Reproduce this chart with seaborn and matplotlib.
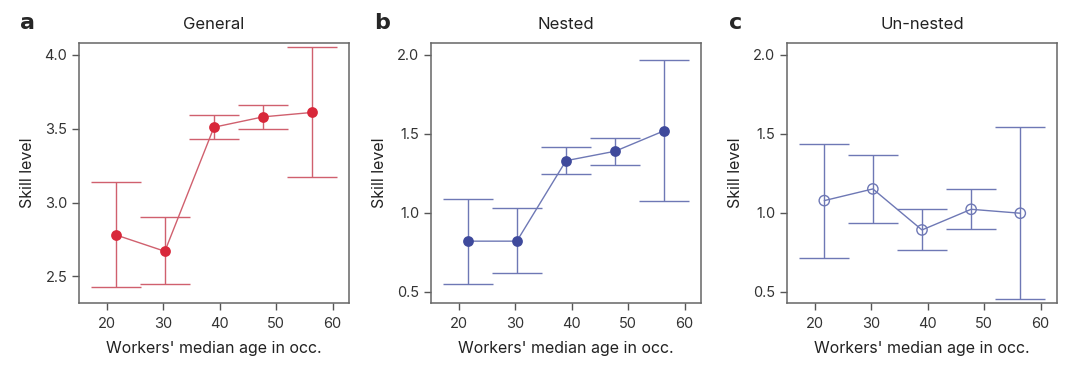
import numpy as np
import pandas as pd
import seaborn as sns
import matplotlib.pyplot as plt

# median age bins (x positions) shared by all panels
age = [21.7, 30.3, 39.0, 47.7, 56.4]

general = [2.78, 2.67, 3.51, 3.58, 3.61]
general_lo = [2.43, 2.45, 3.43, 3.50, 3.17]
general_hi = [3.14, 2.90, 3.59, 3.66, 4.05]

nested = [0.82, 0.82, 1.33, 1.39, 1.52]
nested_lo = [0.547, 0.616, 1.244, 1.303, 1.077]
nested_hi = [1.09, 1.03, 1.415, 1.476, 1.967]

unnested = [1.077, 1.151, 0.891, 1.022, 0.997]
unnested_lo = [0.715, 0.935, 0.762, 0.897, 0.454]
unnested_hi = [1.438, 1.368, 1.022, 1.151, 1.542]

titles = ['General', 'Nested', 'Un-nested']
letters = ['a', 'b', 'c']

sns.set_style('ticks')
plt.rcParams['font.family'] = ['Inter', 'DejaVu Sans']

RED_M, RED_L = '#d8283a', '#d0606e'
BLUE_M, BLUE_L = '#3f4a9c', '#6e78b5'

fig = plt.figure(figsize=(10.8, 3.76), dpi=100)
lefts = [79 / 1080, 431 / 1080, 787 / 1080]
axes = [fig.add_axes([l, 73 / 376, 270 / 1080, 260 / 376]) for l in lefts]

panels = [
    (general, general_lo, general_hi, RED_M, RED_L, True, (2.32, 4.08), [2.5, 3.0, 3.5, 4.0]),
    (nested, nested_lo, nested_hi, BLUE_M, BLUE_L, True, (0.428, 2.076), [0.5, 1.0, 1.5, 2.0]),
    (unnested, unnested_lo, unnested_hi, BLUE_M, BLUE_L, False, (0.428, 2.076), [0.5, 1.0, 1.5, 2.0]),
]
letter_x = [20, 374, 729]

for i, (ax, (y, lo, hi, cm, cl, filled, ylim, yt)) in enumerate(zip(axes, panels)):
    df = pd.DataFrame({'age': age, 'skill': y, 'lo': lo, 'hi': hi})
    yerr = np.vstack([df.skill - df.lo, df.hi - df.skill])
    ax.errorbar(df.age, df.skill, yerr=yerr, fmt='none', ecolor=cl,
                elinewidth=1.0, capsize=18, capthick=1.0, zorder=1)
    sns.lineplot(data=df, x='age', y='skill', ax=ax, color=cl, lw=1.0, zorder=2)
    if filled:
        sns.scatterplot(data=df, x='age', y='skill', ax=ax, color=cm, s=60,
                        edgecolor=cm, linewidth=0, zorder=3)
    else:
        sns.scatterplot(data=df, x='age', y='skill', ax=ax, facecolor='none',
                        edgecolor=BLUE_L, s=55, linewidth=1.0, zorder=3)
    ax.set_xlim(15.1, 62.9)
    ax.set_ylim(*ylim)
    ax.set_xticks([20, 30, 40, 50, 60])
    ax.set_yticks(yt)
    ax.set_yticklabels([f'{v:.1f}' for v in yt])
    ax.set_xlabel("Workers' median age in occ.", fontsize=11.5, color='#222222', labelpad=7)
    ax.set_ylabel('Skill level', fontsize=11.5, color='#222222', labelpad=7)
    ax.set_title(titles[i], fontsize=12, color='#222222', pad=10)
    ax.tick_params(labelsize=10.5, length=5, width=1.0, color='#555555', labelcolor='#333333')
    ax.tick_params(axis='x', pad=5)
    for sp in ax.spines.values():
        sp.set_visible(True)
        sp.set_color('#666666')
        sp.set_linewidth(1.1)
    fig.text(letter_x[i] / 1080, 1 - 23 / 376, letters[i], fontsize=16,
             fontweight='bold', ha='left', va='center', family=['DejaVu Sans'])

fig.savefig('out.png', dpi=100)
